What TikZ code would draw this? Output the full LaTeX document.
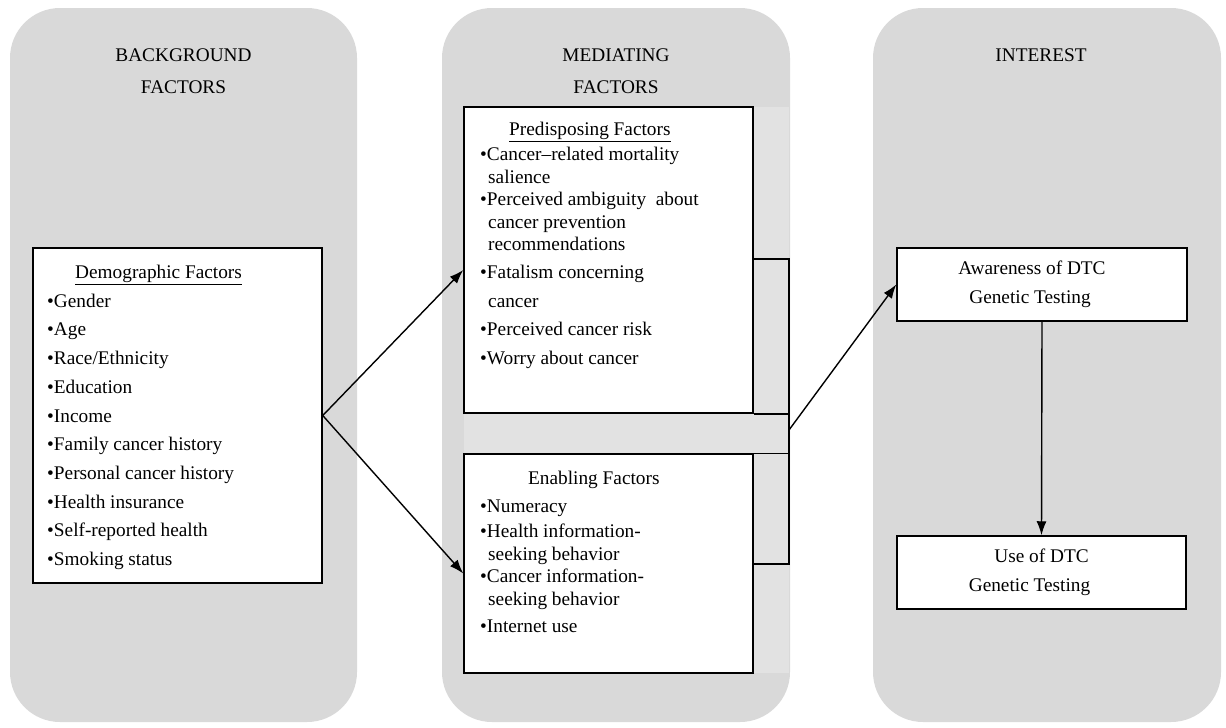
\documentclass[tikz,border=0pt]{standalone}
\usepackage{fontspec}
\setmainfont{Liberation Serif}
\usetikzlibrary{arrows.meta}

\definecolor{panelgray}{RGB}{217,217,217}
\definecolor{bandgray}{RGB}{226,226,226}

\tikzset{
    panel/.style={fill=panelgray, rounded corners=50pt},
    box/.style={draw, fill=white, line width=1.5pt, inner sep=0pt},
    head/.style={align=center, font=\fontsize{19.3}{32}\selectfont},
    list/.style={align=left, inner sep=0pt, anchor=north west},
    arr/.style={line width=1.4pt, -{Latex[length=14pt,width=10pt]}}
}

\begin{document}
\begin{tikzpicture}[x=1pt,y=1pt]
    \useasboundingbox (0,0) rectangle (1226,-728);

    \fill[panel] (10,-8) rectangle (357,-722);
    \fill[panel] (442,-8) rectangle (790,-722);
    \fill[panel] (873,-8) rectangle (1221,-722);
    \fill[bandgray] (464,-107) rectangle (789,-673);

    \node[head] (bghead) at (183.5,-71) {BACKGROUND\\FACTORS};
    \node[head] (medhead) at (616,-71) {MEDIATING\\FACTORS};
    \node[head] (inthead) at (1041,-55) {INTEREST};

    \node[box, minimum width=289pt, minimum height=335pt] (demo) at (177.5,-415.5) {};
    \node[box, minimum width=289pt, minimum height=306pt] (predis) at (608.5,-260) {};
    \node[box, minimum width=289pt, minimum height=219pt] (enab) at (608.5,-563.5) {};
    \node[box, head, minimum width=290pt, minimum height=73pt, font=\fontsize{19.3}{29}\selectfont] (aware) at (1042,-284.5) {Awareness of DTC\hspace*{20pt}\\Genetic Testing\hspace*{24pt}};
    \node[box, head, minimum width=289pt, minimum height=73pt, font=\fontsize{19.3}{29}\selectfont] (use) at (1041.5,-572.5) {Use of DTC\\Genetic Testing\hspace*{24pt}};

    \node[list, font=\fontsize{19.3}{28.7}\selectfont] (demotext) at (47,-265) {%
        \hspace*{28pt}\underline{Demographic Factors}\\
        •Gender\\ •Age\\ •Race/Ethnicity\\ •Education\\ •Income\\
        •Family cancer history\\ •Personal cancer history\\
        •Health insurance\\ •Self-reported health\\ •Smoking status};

    \node[list, font=\fontsize{19.3}{22.5}\selectfont] (predistext) at (480,-122) {%
        \hspace*{29pt}\underline{Predisposing Factors}\\[2.5pt]
        •Cancer–related mortality\\
        \hspace*{8pt}salience\\
        •Perceived ambiguity\ \ about\\
        \hspace*{8pt}cancer prevention\\
        \hspace*{8pt}recommendations\\[5.5pt]
        •Fatalism concerning\\[6.5pt]
        \hspace*{8pt}cancer\\[5.5pt]
        •Perceived cancer risk\\[6.5pt]
        •Worry about cancer};

    \node[list, font=\fontsize{19.3}{22.5}\selectfont] (enabtext) at (480,-471) {%
        \hspace*{48pt}Enabling Factors\\[5.5pt]
        •Numeracy\\[2.5pt]
        •Health information-\\
        \hspace*{8pt}seeking behavior\\
        •Cancer information-\\
        \hspace*{8pt}seeking behavior\\[4.5pt]
        •Internet use};

    % bracket joining the two mediating boxes
    \draw[line width=1.5pt] (753,-259) -| (789,-564) -- (enab.east |- 753,-564);
    \draw[line width=1.5pt] (predis.south east) -- ++(36,0);
    \draw[line width=1.5pt] (enab.north east) -- ++(36,0);
    \coordinate (join) at (789,-430);

    \draw[arr] (demo.east) -- ([yshift=-10pt]predis.west);
    \draw[arr] (demo.east) -- ([yshift=-10pt]enab.west);
    \draw[arr] (join) -- (aware.west);
    \draw[arr] (aware.south) -- (use.north);
\end{tikzpicture}
\end{document}
